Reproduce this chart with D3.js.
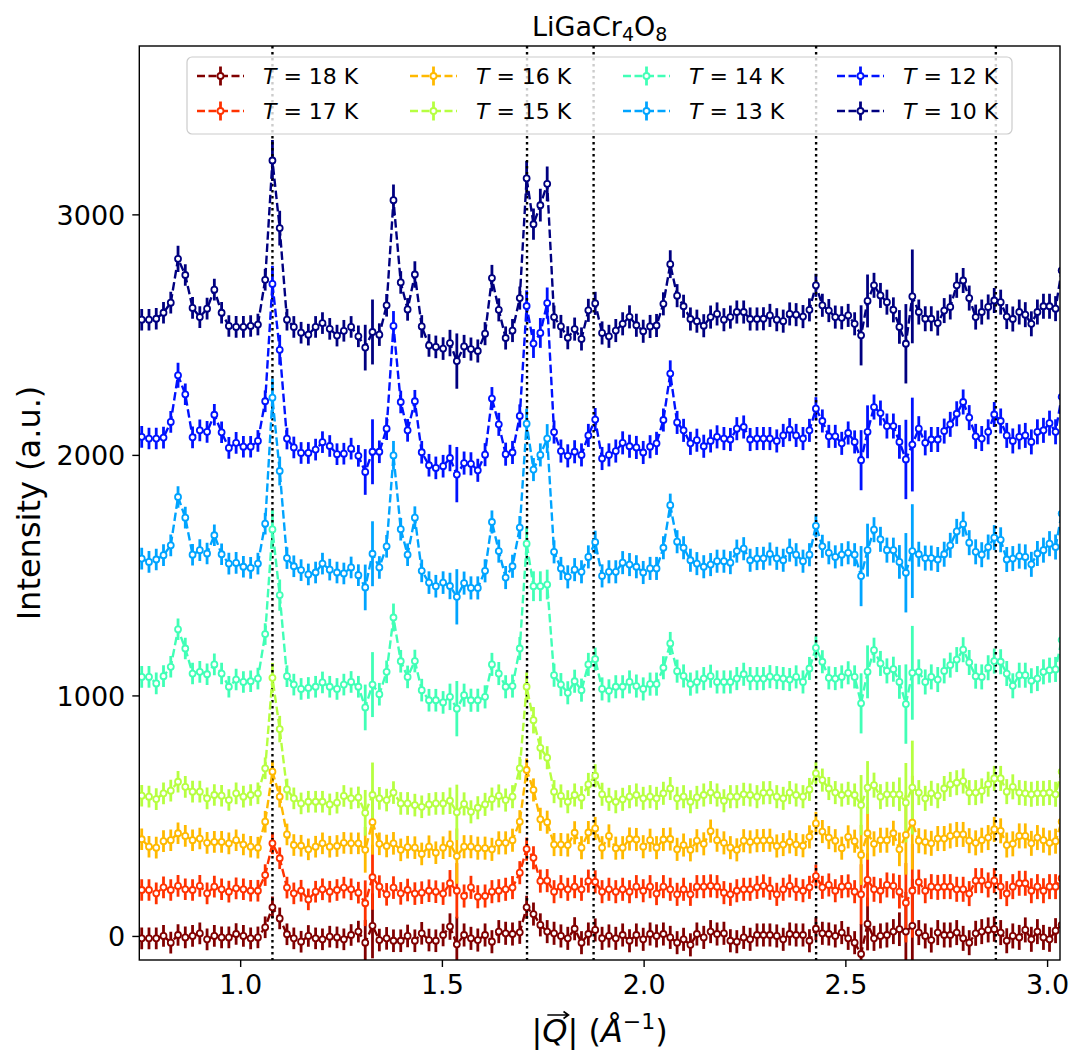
<!DOCTYPE html>
<html><head><meta charset="utf-8">
<script src="https://cdn.jsdelivr.net/npm/d3@7"></script>
<style>body{margin:0;background:#fff}svg{display:block}</style>
</head><body>
<svg id="c" width="1075" height="1052"></svg>
<script>
// ---------------- data ----------------
const Q = [0.756,0.774,0.792,0.810,0.828,0.846,0.864,0.882,0.900,0.918,
 0.936,0.954,0.972,0.990,1.008,1.026,1.044,1.062,1.080,1.098,
 1.116,1.133,1.151,1.169,1.187,1.204,1.222,1.240,1.257,1.275,
 1.293,1.310,1.328,1.345,1.363,1.380,1.398,1.415,1.433,1.450,
 1.468,1.485,1.503,1.520,1.537,1.555,1.572,1.589,1.607,1.624,
 1.641,1.658,1.675,1.693,1.710,1.727,1.744,1.761,1.778,1.795,
 1.812,1.829,1.846,1.863,1.880,1.897,1.914,1.931,1.948,1.965,
 1.982,1.999,2.016,2.032,2.049,2.066,2.083,2.099,2.116,2.132,
 2.149,2.166,2.182,2.199,2.215,2.231,2.248,2.264,2.281,2.297,
 2.313,2.330,2.346,2.362,2.378,2.395,2.411,2.427,2.443,2.459,
 2.475,2.491,2.507,2.523,2.539,2.555,2.571,2.587,2.603,2.619,
 2.634,2.650,2.666,2.682,2.698,2.713,2.729,2.745,2.760,2.776,
 2.792,2.807,2.823,2.838,2.854,2.869,2.885,2.900,2.915,2.931,
 2.946,2.961,2.976,2.991,3.006,3.021,3.036];

const temps = [18, 17, 16, 15, 14, 13, 12, 10];

const I18 = [-10,-10,-10,0,-28,4,-6,0,11,-14,
 0,-6,-6,8,0,-10,-6,36,119,73,
 7,-10,-24,0,-10,-14,-3,-6,-14,4,
 18,-28,42,-17,-10,-20,-20,0,-20,11,
 -17,-20,4,39,-35,4,-10,-17,4,-24,
 18,11,8,15,119,91,46,18,11,0,
 -10,30,-28,8,25,-10,0,-10,4,-20,
 4,-14,8,0,8,-6,-28,-14,-37,8,
 -6,18,8,11,-20,-24,-6,-14,4,4,
 4,0,-14,8,4,4,-20,30,11,8,
 0,14,-10,-28,-75,50,-10,0,4,18,
 28,18,42,14,0,-17,14,4,4,14,
 -10,-28,11,18,25,28,14,-20,0,-6,
 25,-14,18,-6,-14,22,46];

const I17 = [191,191,177,202,191,208,194,191,208,177,
 205,194,184,198,194,188,188,253,385,323,
 201,177,188,152,184,194,184,191,201,194,
 180,136,244,205,173,201,177,191,176,180,
 188,184,176,219,188,166,202,163,166,184,
 188,194,201,263,361,325,228,230,184,205,
 194,205,194,228,225,184,194,184,194,184,
 205,188,205,176,205,194,173,194,173,205,
 205,208,205,180,173,188,194,194,202,208,
 198,173,194,208,194,188,202,249,202,212,
 188,205,208,184,173,233,194,188,212,208,
 184,138,188,224,188,205,202,205,205,194,
 194,176,230,230,212,230,205,176,205,219,
 219,188,205,188,205,205,240];

const I16 = [402,371,367,394,398,427,416,398,405,387,
 391,391,385,398,380,371,367,475,683,579,
 422,378,375,360,371,385,371,374,387,385,
 385,358,473,383,374,385,358,369,367,341,
 371,346,367,383,332,371,371,365,365,360,
 387,387,398,475,690,607,485,473,380,380,
 378,429,367,430,447,367,416,365,367,403,
 401,371,398,367,401,403,360,378,358,396,
 383,436,398,387,367,358,396,391,396,397,
 398,374,380,391,380,375,412,468,434,409,
 396,365,412,394,337,427,383,398,398,427,
 360,420,471,396,391,385,405,405,416,422,
 422,396,387,398,409,443,437,378,383,416,
 416,385,409,398,387,394,475];

const I15 = [583,579,569,593,604,641,620,600,600,572,
 586,583,565,593,579,586,593,697,1073,860,
 609,572,551,558,558,558,547,554,582,572,
 576,512,586,572,565,596,551,551,544,537,
 547,551,551,562,514,549,516,533,547,569,
 582,565,579,697,1036,897,782,741,600,582,
 558,586,575,630,666,589,568,558,568,579,
 586,572,579,572,593,613,572,579,558,576,
 586,596,586,562,579,579,589,586,579,595,
 596,579,572,596,586,579,609,676,648,613,
 596,586,593,586,544,617,627,579,589,589,
 589,554,617,596,572,593,583,613,630,637,
 644,596,596,603,631,655,655,600,620,596,
 593,589,593,593,596,589,683];

const I14 = [1077,1077,1050,1080,1119,1275,1195,1091,1098,1088,
 1129,1091,1036,1066,1056,1059,1070,1255,1690,1417,
 1080,1045,1027,1031,1036,1054,1036,1027,1045,1056,
 1036,950,1045,1005,1098,1324,1142,1077,1143,1022,
 980,980,971,994,945,1001,980,980,994,1129,
 1091,1036,1039,1195,1631,1454,1454,1461,1084,1045,
 1011,1059,1022,1129,1151,1027,1019,1036,1036,1056,
 1039,1027,1047,1047,1115,1216,1101,1081,1047,1056,
 1070,1080,1056,1056,1056,1070,1088,1070,1070,1070,
 1078,1074,1070,1066,1077,1056,1112,1198,1140,1073,
 1070,1077,1094,1077,967,1098,1188,1133,1102,1109,
 1056,964,1094,1098,1056,1077,1066,1102,1126,1149,
 1190,1137,1080,1077,1115,1143,1140,1091,1040,1084,
 1084,1061,1070,1098,1105,1108,1230];

const I13 = [1569,1555,1565,1583,1624,1825,1739,1585,1604,1590,
 1666,1587,1548,1551,1535,1530,1548,1714,2238,1933,
 1571,1537,1521,1503,1511,1548,1523,1511,1507,1532,
 1500,1449,1589,1532,1620,1998,1691,1585,1739,1518,
 1469,1454,1469,1455,1410,1467,1447,1447,1518,1721,
 1600,1490,1537,1698,2130,1939,2000,2068,1597,1528,
 1493,1523,1514,1576,1637,1497,1514,1514,1552,1544,
 1535,1511,1528,1528,1614,1791,1639,1614,1562,1548,
 1535,1544,1558,1558,1552,1600,1610,1562,1569,1570,
 1588,1570,1562,1604,1585,1558,1585,1705,1620,1593,
 1576,1585,1593,1585,1496,1604,1689,1649,1604,1604,
 1555,1510,1600,1587,1571,1571,1565,1587,1624,1682,
 1712,1635,1597,1585,1617,1656,1647,1565,1569,1579,
 1576,1545,1590,1604,1631,1617,1756];

const I12 = [2075,2068,2068,2072,2137,2331,2252,2073,2102,2096,
 2167,2094,2029,2050,2034,2034,2058,2223,2711,2437,
 2068,2031,2008,2008,2022,2053,2037,2003,2005,2026,
 1996,1929,2013,2013,2109,2536,2220,2102,2223,2011,
 1957,1946,1953,1987,1918,1966,1963,1936,2001,2234,
 2127,2003,2010,2162,2619,2463,2507,2631,2095,2016,
 1996,2013,2000,2081,2147,1985,2000,2016,2050,2036,
 2031,2010,2034,2048,2145,2338,2135,2102,2048,2061,
 2036,2058,2075,2068,2064,2109,2116,2064,2068,2068,
 2068,2058,2081,2105,2081,2068,2102,2192,2141,2077,
 2077,2048,2091,2054,1978,2096,2199,2174,2120,2120,
 2054,1981,2043,2109,2050,2064,2064,2099,2127,2171,
 2220,2155,2077,2068,2096,2168,2141,2081,2058,2075,
 2081,2054,2096,2102,2132,2096,2241];

const I10 = [2562,2562,2566,2591,2633,2815,2748,2611,2573,2608,
 2687,2591,2536,2532,2532,2536,2542,2728,3224,2943,
 2562,2532,2508,2500,2532,2548,2524,2496,2516,2532,
 2493,2446,2511,2500,2622,3059,2717,2605,2750,2534,
 2455,2449,2442,2465,2390,2451,2440,2432,2504,2735,
 2603,2486,2517,2652,3150,2959,3038,3127,2573,2534,
 2487,2523,2482,2601,2630,2507,2493,2517,2545,2574,
 2539,2514,2534,2538,2628,2793,2662,2618,2565,2556,
 2537,2573,2586,2562,2573,2594,2594,2565,2565,2566,
 2580,2562,2556,2586,2583,2575,2603,2705,2622,2600,
 2573,2570,2580,2545,2497,2640,2705,2663,2635,2603,
 2532,2462,2659,2594,2566,2566,2548,2600,2615,2705,
 2725,2652,2573,2594,2615,2642,2635,2575,2565,2594,
 2583,2545,2594,2618,2618,2608,2767];

// background error (half-length of bar) read per Q point
const errBase = [45,45,45,45,45,45,45,45,45,45,
 45,45,45,45,45,45,45,45,45,45,
 45,45,45,45,45,45,45,45,45,45,
 45,95,135,47,47,47,47,47,47,47,
 47,47,47,55,115,48,48,48,48,48,
 48,48,48,48,48,48,48,48,48,48,
 48,48,48,48,48,48,48,48,48,48,
 48,48,48,48,48,48,48,48,48,48,
 48,48,48,48,48,48,48,48,48,48,
 48,48,48,48,48,48,48,48,48,48,
 48,48,48,48,125,110,52,52,52,52,
 70,165,195,52,52,52,52,52,52,52,
 52,52,52,52,52,52,52,52,52,52,
 52,52,52,52,52,52,52];

// larger bars at strong peaks (index -> half-length)
const err10 = {5:55,18:85,19:72,35:65,38:55,49:55,54:72,55:65,56:68,57:72,75:58};
const err12 = {5:52,18:75,19:62,35:62,54:65,55:60,56:62,57:65,75:55};
const err13 = {18:80,19:60,35:60,54:62,57:60};
const err14 = {18:80,19:65,35:58,54:70,55:62,56:62,57:62};
const err15 = {18:62,19:55,54:60,55:55};

const braggQ = [1.080, 1.711, 1.876, 2.4275, 2.873];
const xTicks = [1.0, 1.5, 2.0, 2.5, 3.0];
const yTicks = [0, 1000, 2000, 3000];

// ---------------- chart ----------------
const valsByT = {18:I18,17:I17,16:I16,15:I15,14:I14,13:I13,12:I12,10:I10};
const errByT = {18:{},17:{},16:{},15:err15,14:err14,13:err13,12:err12,10:err10};
const colorByT = {18:'#800000',17:'#ff3200',16:'#ffb900',15:'#b6ff41',14:'#41ffb6',13:'#00a4ff',12:'#0012ff',10:'#000080'};
const FONT = 'DejaVu Sans, sans-serif';
const LW = 2.4, DASH = '8.5,3.7', EW = 2.8, MR = 3.0, MSW = 1.8;

const M = {l:139.3, r:1060, t:46, b:960};
const x = d3.scaleLinear().domain([0.75, 3.032]).range([M.l, M.r]);
const y = d3.scaleLinear().domain([-100, 3700]).range([M.b, M.t]);

const svg = d3.select('#c');
svg.append('rect').attr('width',1075).attr('height',1052).attr('fill','#fff');
svg.append('defs').append('clipPath').attr('id','clip')
  .append('rect').attr('x',M.l).attr('y',M.t).attr('width',M.r-M.l).attr('height',M.b-M.t);

const series = temps.map(t => ({t, vals: valsByT[t], err: errByT[t], color: colorByT[t]}));
const eOf = (s,i) => (s.err[i] !== undefined ? s.err[i] : errBase[i]);

const g = svg.append('g').attr('clip-path','url(#clip)');

// error bars (all below the data lines)
series.forEach(s => {
  g.append('g').selectAll('line').data(Q).join('line')
    .attr('x1', q => x(q)).attr('x2', q => x(q))
    .attr('y1', (q,i) => y(s.vals[i] - eOf(s,i)))
    .attr('y2', (q,i) => y(s.vals[i] + eOf(s,i)))
    .attr('stroke', s.color).attr('stroke-width', EW);
});

// dotted reference lines
g.append('g').selectAll('line').data(braggQ).join('line')
  .attr('x1', d => x(d)).attr('x2', d => x(d))
  .attr('y1', M.t).attr('y2', M.b)
  .attr('stroke','#000').attr('stroke-width',2.4).attr('stroke-dasharray','2.4,3.6');

// data lines + markers
const line = d3.line().x((d,i) => x(Q[i])).y(d => y(d));
series.forEach(s => {
  g.append('path').attr('d', line(s.vals)).attr('fill','none')
    .attr('stroke', s.color).attr('stroke-width', LW).attr('stroke-dasharray', DASH);
  g.append('g').selectAll('circle').data(s.vals).join('circle')
    .attr('cx', (d,i) => x(Q[i])).attr('cy', d => y(d)).attr('r', MR)
    .attr('fill','#fff').attr('stroke', s.color).attr('stroke-width', MSW);
});

// axes
const xAxis = d3.axisBottom(x).tickValues(xTicks).tickFormat(d3.format('.1f')).tickSize(7).tickPadding(6).tickSizeOuter(0);
const yAxis = d3.axisLeft(y).tickValues(yTicks).tickFormat(d3.format('d')).tickSize(7).tickPadding(7).tickSizeOuter(0);
const gx = svg.append('g').attr('transform',`translate(0,${M.b})`).call(xAxis);
const gy = svg.append('g').attr('transform',`translate(${M.l},0)`).call(yAxis);
[gx, gy].forEach(a => {
  a.select('.domain').remove();
  a.selectAll('.tick line').attr('stroke','#000').attr('stroke-width',1.4);
  a.selectAll('.tick text').attr('fill','#000').style('font-family',FONT).style('font-size','27px');
});
gx.selectAll('.tick text').attr('dy','0.76em');
gy.selectAll('.tick text').attr('dy','0.36em');

svg.append('rect').attr('x',M.l).attr('y',M.t).attr('width',M.r-M.l).attr('height',M.b-M.t)
  .attr('fill','none').attr('stroke','#000').attr('stroke-width',1.4);

// title
const title = svg.append('text').attr('x',(M.l+M.r)/2).attr('y',36).attr('text-anchor','middle')
  .style('font-family',FONT).style('font-size','27px');
title.append('tspan').text('LiGaCr');
title.append('tspan').text('4').style('font-size','19px').attr('dy',5);
title.append('tspan').text('O').attr('dy',-5);
title.append('tspan').text('8').style('font-size','19px').attr('dy',5);

// y label
svg.append('text').attr('transform',`translate(40,${(M.t+M.b)/2}) rotate(-90)`)
  .attr('text-anchor','middle').style('font-family',FONT).style('font-size','32px')
  .text('Intensity (a.u.)');

// x label
const xl = svg.append('text').attr('x',(M.l+M.r)/2).attr('y',1042).attr('text-anchor','middle')
  .style('font-family',FONT).style('font-size','32px');
xl.append('tspan').text('|');
xl.append('tspan').text('Q').style('font-style','italic');
xl.append('tspan').text('| (');
xl.append('tspan').text('Å').style('font-style','italic');
xl.append('tspan').text('−1').style('font-size','22px').attr('dy',-13);
xl.append('tspan').text(')').attr('dy',13);
try {
  const ext = xl.node().getExtentOfChar(1);
  const ax0 = ext.x + 5, ax1 = ext.x + ext.width + 1, ay = ext.y + 3;
  svg.append('path').attr('d',`M${ax0},${ay}L${ax1},${ay}M${ax1-5},${ay-3.5}L${ax1},${ay}L${ax1-5},${ay+3.5}`)
    .attr('fill','none').attr('stroke','#000').attr('stroke-width',1.6);
} catch(e) {}

// legend
const lg = svg.append('g');
lg.append('rect').attr('x',187).attr('y',57).attr('width',825).attr('height',77).attr('rx',5)
  .attr('fill','#fff').attr('fill-opacity',0.8).attr('stroke','#cccccc').attr('stroke-width',1.2);
const colX = [197, 410, 623, 837];
const rowY = [76, 111];
series.forEach((s,k) => {
  const cx = colX[Math.floor(k/2)], cy = rowY[k%2];
  const h = lg.append('g');
  h.append('line').attr('x1',cx).attr('x2',cx+47).attr('y1',cy).attr('y2',cy)
    .attr('stroke',s.color).attr('stroke-width',LW).attr('stroke-dasharray','8,3.5');
  h.append('line').attr('x1',cx+23.5).attr('x2',cx+23.5).attr('y1',cy-9.5).attr('y2',cy+9.5)
    .attr('stroke',s.color).attr('stroke-width',EW);
  h.append('circle').attr('cx',cx+23.5).attr('cy',cy).attr('r',MR)
    .attr('fill','#fff').attr('stroke',s.color).attr('stroke-width',MSW);
  const t = lg.append('text').attr('x',cx+66).attr('y',cy+8)
    .style('font-family',FONT).style('font-size','22px');
  t.append('tspan').text('T').style('font-style','italic');
  t.append('tspan').text(` = ${s.t} K`);
});
</script>
</body></html>
